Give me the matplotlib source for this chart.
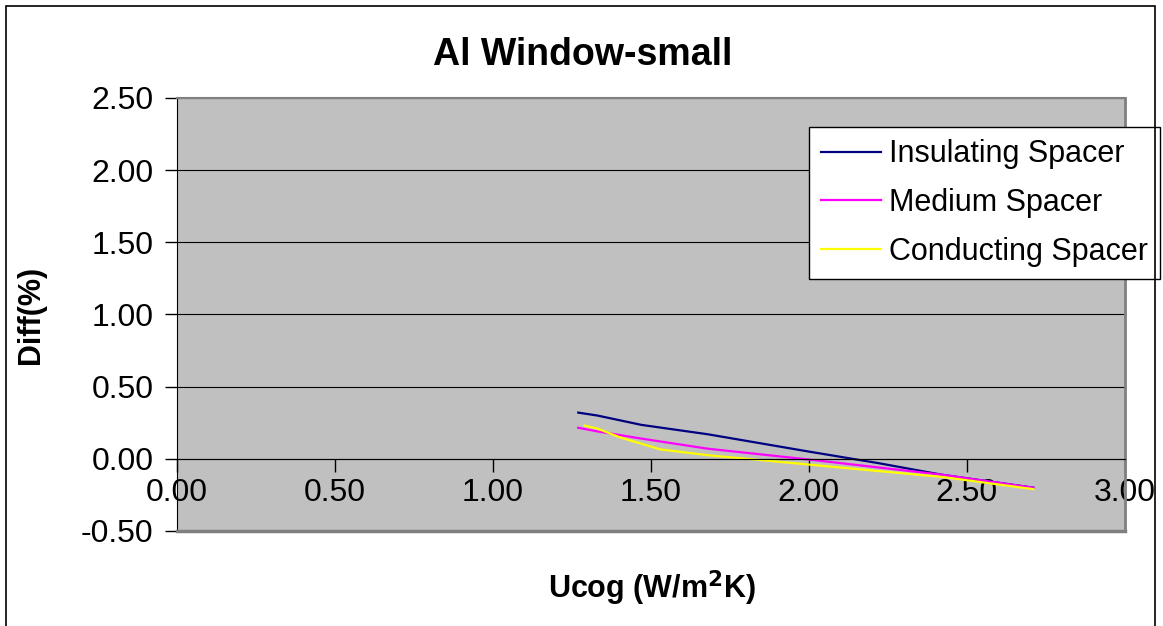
import matplotlib.pyplot as plt
from matplotlib.patches import Rectangle

plt.rcParams["font.family"] = ["Liberation Sans", "DejaVu Sans"]

# Values
ins_x = [1.27, 1.33, 1.47, 1.68, 2.00, 2.22, 2.42, 2.71]
ins_y = [0.32, 0.30, 0.235, 0.17, 0.05, -0.03, -0.11, -0.20]

med_x = [1.27, 1.33, 1.47, 1.68, 2.00, 2.22, 2.42, 2.71]
med_y = [0.215, 0.19, 0.14, 0.07, -0.005, -0.06, -0.11, -0.20]

con_x = [1.29, 1.33, 1.40, 1.53, 1.68, 2.00, 2.22, 2.42, 2.71]
con_y = [0.23, 0.21, 0.15, 0.065, 0.025, -0.04, -0.085, -0.125, -0.21]

x_ticks = [0.0, 0.5, 1.0, 1.5, 2.0, 2.5, 3.0]
y_ticks = [-0.5, 0.0, 0.5, 1.0, 1.5, 2.0, 2.5]

fig = plt.figure(figsize=(11.63, 6.26), dpi=100)
ax = fig.add_axes([0.1522, 0.1518, 0.815, 0.6917])

# outer chart frame (bottom edge runs off the picture)
fig.patches.append(Rectangle((6 / 1163, -0.05), 1149 / 1163, 1.05 - 6 / 626,
                             transform=fig.transFigure, fill=False,
                             edgecolor="black", linewidth=1.2, clip_on=False))

ax.set_facecolor("#C0C0C0")
ax.plot(ins_x, ins_y, color="#000080", lw=1.6, label="Insulating Spacer")
ax.plot(med_x, med_y, color="#FF00FF", lw=1.6, label="Medium Spacer")
ax.plot(con_x, con_y, color="#FFFF00", lw=1.6, label="Conducting Spacer")

ax.set_xlim(0, 3)
ax.set_ylim(-0.5, 2.5)
ax.set_xticks(x_ticks)
ax.set_yticks(y_ticks)
ax.set_xticklabels([f"{v:.2f}" for v in x_ticks])
ax.set_yticklabels([f"{v:.2f}" for v in y_ticks])
ax.yaxis.grid(True, color="black", lw=0.8)
ax.set_axisbelow(True)

ax.spines["bottom"].set_position(("data", 0))
ax.spines["bottom"].set_color("black")
ax.spines["left"].set_color("black")
ax.spines["top"].set_color("#808080")
ax.spines["right"].set_color("#808080")
ax.spines["top"].set_linewidth(1.5)
ax.spines["right"].set_linewidth(2)
ax.plot([0, 3], [-0.5, -0.5], color="#808080", lw=2.5, clip_on=False, zorder=3)

ax.tick_params(axis="both", labelsize=23, length=9, width=1, color="black")
ax.tick_params(axis="x", pad=5)
ax.tick_params(axis="y", pad=8)

fig.text(0.501, 0.912, "Al Window-small", fontsize=27, fontweight="bold",
         ha="center", va="center")
fig.text(0.561, 0.06, "Ucog (W/m$^\\mathbf{2}$K)", fontsize=22, fontweight="bold",
         ha="center", va="center")
fig.text(0.027, 0.497, "Diff(%)", fontsize=22, fontweight="bold",
         ha="center", va="center", rotation=90)

leg = ax.legend(loc="upper left", bbox_to_anchor=(0.667, 0.933),
                fontsize=22, frameon=True, fancybox=False, borderaxespad=0,
                handlelength=1.95, handletextpad=0.25, labelspacing=0.62,
                borderpad=0.4)
leg.get_frame().set_edgecolor("black")
leg.get_frame().set_facecolor("white")
leg.get_frame().set_alpha(1)
leg.set_clip_on(False)

fig.savefig("out.png", dpi=100)
